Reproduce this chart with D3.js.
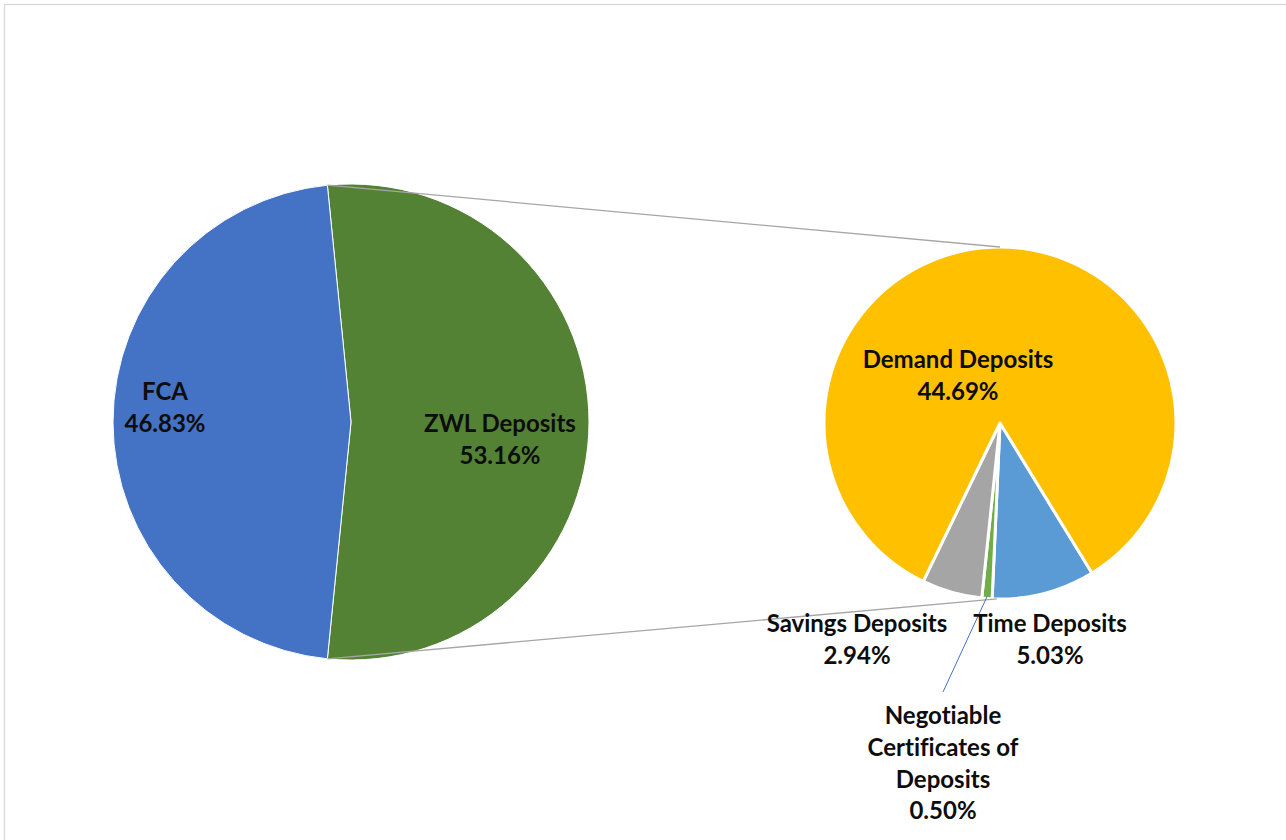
<!DOCTYPE html>
<html>
<head>
<meta charset="utf-8">
<script src="https://cdn.jsdelivr.net/npm/d3@7"></script>
<style>
  html, body { margin: 0; padding: 0; background: #fff; }
  svg { display: block; }
  text { font-family: Lato, "Open Sans", sans-serif; font-weight: 700; fill: #0d0d0d; font-variant-ligatures: none; font-feature-settings: "liga" 0; }
</style>
</head>
<body>
<svg id="chart" width="1286" height="840"></svg>
<script>
// Deposit composition: primary split and breakdown of ZWL deposits (percent of total)
const primaryLabels = ["FCA", "ZWL Deposits"];
const primaryValues = [46.83, 53.16];
const primaryColors = ["#4472C4", "#548235"];

const detailLabels = ["Time Deposits", "Negotiable Certificates of Deposits", "Savings Deposits", "Demand Deposits"];
const detailValues = [5.03, 0.50, 2.94, 44.69];
const detailColors = ["#5B9BD5", "#70AD47", "#A5A5A5", "#FFC000"];

// label text lines for each slice
const labelLines = {
  "FCA": ["FCA"],
  "ZWL Deposits": ["ZWL Deposits"],
  "Demand Deposits": ["Demand Deposits"],
  "Time Deposits": ["Time Deposits"],
  "Savings Deposits": ["Savings Deposits"],
  "Negotiable Certificates of Deposits": ["Negotiable", "Certificates of", "Deposits"]
};

const svg = d3.select("#chart");
const W = 1286, H = 840;

// chart area frame
svg.append("rect")
  .attr("x", 4.5).attr("y", 4.5)
  .attr("width", W + 10).attr("height", H + 10)
  .attr("fill", "#fff").attr("stroke", "#d9d9d9").attr("stroke-width", 1.3);

const deg = Math.PI / 180;
const fmt = v => v.toFixed(2) + "%";

// ---- primary pie ----
const P = { cx: 351, cy: 422, r: 238 };
const zwlIdx = primaryLabels.indexOf("ZWL Deposits");
const zwlShare = primaryValues[zwlIdx] / d3.sum(primaryValues);
// ZWL slice centred on the right side (facing the breakdown pie)
const pStart = Math.PI / 2 - zwlShare * Math.PI;
const primaryData = [zwlIdx, 1 - zwlIdx].map(i => ({ label: primaryLabels[i], value: primaryValues[i], color: primaryColors[i] }));
const primaryArcs = d3.pie().sort(null).value(d => d.value)
  .startAngle(pStart).endAngle(pStart + 2 * Math.PI)(primaryData);

const arcP = d3.arc().innerRadius(0).outerRadius(P.r);
const gP = svg.append("g").attr("transform", `translate(${P.cx},${P.cy})`);
gP.selectAll("path").data(primaryArcs).join("path")
  .attr("d", arcP)
  .attr("fill", d => d.data.color)
  .attr("stroke", "#fff").attr("stroke-width", 1);

// ---- breakdown pie ----
const S = { cx: 1000, cy: 423, r: 176 };
const sStart = 148.5 * deg;
const detailData = detailLabels.map((l, i) => ({ label: l, value: detailValues[i], color: detailColors[i] }));
const detailArcs = d3.pie().sort(null).value(d => d.value)
  .startAngle(sStart).endAngle(sStart + 2 * Math.PI)(detailData);

const arcS = d3.arc().innerRadius(0).outerRadius(S.r);
const gS = svg.append("g").attr("transform", `translate(${S.cx},${S.cy})`);
gS.selectAll("path").data(detailArcs).join("path")
  .attr("d", arcS)
  .attr("fill", d => d.data.color)
  .attr("stroke", "#fff").attr("stroke-width", 3).attr("stroke-linejoin", "round");

// ---- series lines joining the ZWL slice to the breakdown pie ----
const zwlArc = primaryArcs[0];
const polar = (c, r, a) => [c.cx + r * Math.sin(a), c.cy - r * Math.cos(a)];
const joins = [
  [polar(P, P.r, zwlArc.startAngle), polar(S, S.r, 0)],
  [polar(P, P.r, zwlArc.endAngle), polar(S, S.r, 181 * deg)]
];
svg.append("g").selectAll("line").data(joins).join("line")
  .attr("x1", d => d[0][0]).attr("y1", d => d[0][1])
  .attr("x2", d => d[1][0]).attr("y2", d => d[1][1])
  .attr("stroke", "#a6a6a6").attr("stroke-width", 1.3);

// ---- data labels ----
// anchor: centre x and first baseline of each label block
const labelAnchor = {
  "FCA": [165, 400],
  "ZWL Deposits": [500, 432],
  "Demand Deposits": [958, 368],
  "Time Deposits": [1050, 632],
  "Savings Deposits": [857, 632],
  "Negotiable Certificates of Deposits": [943, 724]
};
const lineH = 31.8;

// leader line for the thin NCD slice
const ncd = detailArcs.find(d => d.data.label.startsWith("Negotiable"));
const ncdMid = (ncd.startAngle + ncd.endAngle) / 2;
const leadFrom = polar(S, S.r - 2, ncdMid);
const leadTo = [943, 692];
svg.append("line")
  .attr("x1", leadFrom[0]).attr("y1", leadFrom[1])
  .attr("x2", leadTo[0]).attr("y2", leadTo[1])
  .attr("stroke", "#4472C4").attr("stroke-width", 1);

const allLabels = primaryData.concat(detailData);
const gL = svg.append("g");
allLabels.forEach(d => {
  const [x, y] = labelAnchor[d.label];
  const lines = labelLines[d.label].concat([fmt(d.value)]);
  const t = gL.append("text").attr("text-anchor", "middle").attr("font-size", 24);
  lines.forEach((s, i) => {
    t.append("tspan").attr("x", x).attr("y", y + i * lineH).text(s);
  });
});
</script>
</body>
</html>
